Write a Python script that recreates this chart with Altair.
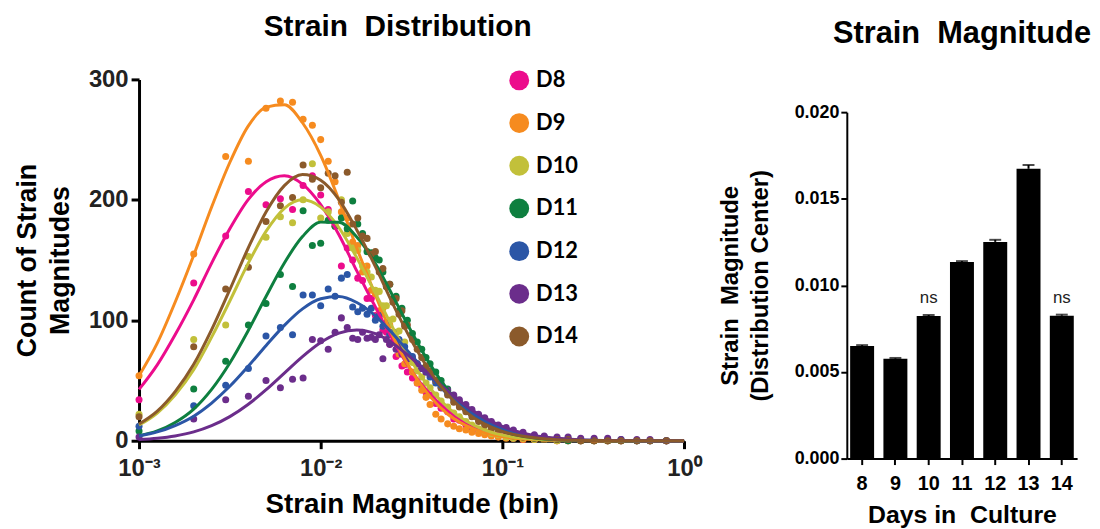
import altair as alt
import pandas as pd

# ---------------- data ----------------
series_names = ["D8", "D9", "D10", "D11", "D12", "D13", "D14"]
series_colors = ["#EC0C8C", "#F68B1F", "#C2C03A", "#0E7F3F", "#2B56A6", "#6B2D8B", "#8B5A2B"]

# fitted curves (strain bin on log axis)
curve_x = [0.001, 0.00126, 0.00158, 0.002, 0.00251, 0.00316, 0.00398, 0.00501, 0.00631, 0.00794,
           0.01, 0.0126, 0.0158, 0.02, 0.0251, 0.0316, 0.0398, 0.0501, 0.0631, 0.0794,
           0.1, 0.126, 0.158, 0.2, 0.251, 0.316, 0.398, 0.501, 0.631, 0.794, 1.0]
curve_D8 = [42.6, 63, 88, 117, 147.5, 176, 200, 215, 220, 213, 196, 171, 141, 111, 83, 58, 39, 25, 15, 8.6,
            4.7, 2.4, 1.2, 0.5, 0.2, 0.1, 0, 0, 0, 0, 0]
curve_D9 = [54, 81, 115, 154, 194, 231, 261, 277, 279, 264, 237, 200, 160, 121, 86, 58, 37, 22, 12.5, 6.7,
            3.4, 1.6, 0.7, 0.3, 0.1, 0, 0, 0, 0, 0, 0]
curve_D10 = [13, 23, 38, 59, 86, 116, 147, 174, 193, 200, 194, 177, 152, 122.5, 93, 66, 44, 27.6, 16.3, 9,
             4.7, 2.3, 1.0, 0.5, 0.2, 0.1, 0, 0, 0, 0, 0]
curve_D11 = [4.1, 8.1, 15.1, 26.2, 42.6, 64.5, 91.1, 120, 147.6, 169.5, 181.5, 181.4, 169.1, 147.2, 119.4,
             90.5, 64, 42.2, 26, 14.9, 8, 4, 1.9, 0.8, 0.3, 0.1, 0, 0, 0, 0, 0]
curve_D12 = [4, 7.3, 12.6, 20.4, 31.3, 45.2, 61.6, 79.1, 95.8, 109.5, 117.9, 119.8, 114.8, 103.7, 88.4, 71,
             53.8, 38.5, 25.9, 16.5, 9.9, 5.6, 3.0, 1.5, 0.7, 0.3, 0.1, 0, 0, 0, 0]
curve_D13 = [1, 2.1, 4, 7.3, 12.5, 20, 30.1, 42.4, 56.2, 69.9, 81.6, 89.4, 92, 88.9, 80.6, 68.6, 54.8, 41.1,
             29, 19.2, 11.9, 6.9, 3.8, 2, 1, 0.4, 0.2, 0.1, 0, 0, 0]
curve_D14 = [13.9, 24.6, 40.8, 63.4, 92.2, 125.4, 159.6, 190.1, 211.8, 221, 216.3, 200.2, 175, 144.6, 112.8,
             83.2, 58, 38.2, 23.8, 14, 7.8, 4.1, 2.0, 0.9, 0.4, 0.2, 0, 0, 0, 0, 0]

# binned counts (scatter)
scatter_x = [0.001, 0.002, 0.003, 0.004, 0.005, 0.006, 0.007, 0.008, 0.009, 0.010,
             0.011, 0.012, 0.013, 0.014, 0.015, 0.016, 0.017, 0.018, 0.019, 0.020,
             0.021, 0.022, 0.023, 0.024, 0.025, 0.026, 0.027, 0.028, 0.029, 0.030,
             0.032, 0.034, 0.036, 0.038, 0.040, 0.043, 0.046, 0.050, 0.054, 0.058,
             0.063, 0.068, 0.074, 0.080, 0.087, 0.095, 0.105, 0.115, 0.13, 0.15,
             0.17, 0.2, 0.23, 0.27, 0.32, 0.38, 0.45, 0.55, 0.65, 0.8]
scatter_D8 = [34, 131, 170, 207, 196, 201, 192, 212, 220, 204, 192, 178, 145, 160, 150, 135, 133, 118, 118, 104,
              104, 92, 90, 80, 82, 70, 72, 62, 63, 57, 52, 48, 45, 40, 38, 31, 27, 24, 18, 17,
              13, 11, 8, 6, 5, 4, 3, 2, 1, 1, 1, 0, 0, 0, 0, 0, 0, 0, 0, 0]
scatter_D9 = [54, 155, 236, 232, 276, 282, 281, 267, 262, 250, 232, 215, 190, 185, 165, 162, 140, 145, 125, 122,
              108, 110, 95, 96, 82, 84, 72, 74, 64, 66, 57, 48, 42, 36, 30, 22, 18, 14, 12, 10,
              9, 7, 6, 5, 4, 3, 2, 2, 1, 1, 1, 0, 0, 0, 0, 0, 0, 0, 0, 0]
scatter_D10 = [22, 84, 96, 153, 169, 186, 181, 200, 230, 185, 190, 178, 200, 172, 160, 158, 145, 140, 136, 125,
               124, 112, 112, 100, 101, 90, 91, 80, 82, 72, 65, 58, 53, 48, 44, 38, 33, 28, 23, 20,
               16, 13, 10, 8, 6, 5, 3, 2, 2, 1, 1, 0, 0, 0, 0, 0, 0, 0, 0, 0]
scatter_D11 = [8, 43, 66, 96, 114, 138, 128, 191, 162, 164, 183, 178, 185, 176, 199, 180, 172, 157, 156, 152,
               150, 140, 128, 130, 118, 120, 108, 110, 97, 100, 89, 82, 76, 69, 64, 57, 50, 43, 37, 32,
               26, 22, 18, 14, 11, 8, 6, 4, 3, 2, 1, 1, 0, 0, 0, 0, 0, 0, 0, 0]
scatter_D12 = [12, 29, 46, 60, 87, 94, 88, 121, 121, 112, 126, 120, 135, 138, 111, 107, 110, 105, 110, 100,
               104, 95, 98, 88, 90, 82, 84, 76, 78, 70, 70, 64, 60, 57, 53, 48, 44, 39, 34, 30,
               26, 22, 19, 16, 13, 11, 8, 7, 5, 4, 3, 2, 2, 1, 1, 1, 1, 0, 0, 0]
scatter_D13 = [3, 18, 34, 37, 50, 44, 51, 52, 84, 83, 76, 90, 102, 94, 85, 84, 90, 85, 86, 84,
               88, 68, 84, 80, 82, 76, 78, 72, 74, 68, 68, 64, 60, 57, 55, 50, 47, 42, 38, 34,
               30, 26, 22, 19, 16, 13, 11, 9, 7, 5, 4, 3, 3, 2, 2, 2, 1, 1, 1, 0]
scatter_D14 = [20, 78, 126, 144, 182, 195, 202, 229, 217, 210, 222, 220, 198, 223, 180, 185, 170, 168, 155, 157,
               140, 143, 128, 130, 115, 118, 105, 108, 95, 96, 84, 76, 69, 62, 58, 50, 44, 38, 32, 28,
               24, 20, 16, 13, 10, 8, 6, 5, 3, 2, 1, 1, 1, 0, 0, 0, 0, 0, 0, 0]

# bar chart
bar_days = ["8", "9", "10", "11", "12", "13", "14"]
bar_centers = [0.0065, 0.00577, 0.00823, 0.01135, 0.01251, 0.01673, 0.00825]
bar_errors = [0.00005, 0.00004, 0.00006, 0.00005, 0.00012, 0.00022, 0.00006]
bar_notes = ["", "", "ns", "", "", "", "ns"]

# ---------------- tables ----------------
curve_vals = dict(zip(series_names, [curve_D8, curve_D9, curve_D10, curve_D11, curve_D12, curve_D13, curve_D14]))
scatter_vals = dict(zip(series_names, [scatter_D8, scatter_D9, scatter_D10, scatter_D11, scatter_D12,
                                       scatter_D13, scatter_D14]))

curve_df = pd.DataFrame([
    {"day": s, "strain": x, "count": v, "idx": i}
    for s in series_names for i, (x, v) in enumerate(zip(curve_x, curve_vals[s]))
])
scatter_df = pd.DataFrame([
    {"day": s, "strain": x, "count": v}
    for s in series_names for x, v in zip(scatter_x, scatter_vals[s])
])
bar_df = pd.DataFrame({"day": bar_days, "center": bar_centers, "err": bar_errors, "note": bar_notes})

FONT = "Liberation Sans"

# ---------------- left panel ----------------
x_scale = alt.Scale(type="log", domain=[0.001, 1], nice=False)
y_scale = alt.Scale(domain=[0, 300], nice=False)

x_axis = alt.Axis(
    values=[0.001, 0.01, 0.1, 1],
    labelExpr="datum.value < 0.005 ? '10\u207b\u00b3' : datum.value < 0.05 ? '10\u207b\u00b2' : datum.value < 0.5 ? '10\u207b\u00b9' : '10\u2070'",
    title="Strain Magnitude (bin)",
    titleFontSize=28, titlePadding=10,
    labelFontSize=24, labelColor="#222", labelPadding=8, labelFlush=False,
    tickSize=8, tickWidth=3, domainWidth=3,
)
y_axis = alt.Axis(
    values=[0, 100, 200, 300],
    title=["Count of Strain", "Magnitudes"],
    titleFontSize=27, titlePadding=14, titleLineHeight=33,
    labelFontSize=24, labelColor="#222", labelPadding=3,
    tickSize=8, tickWidth=3, domainWidth=3,
)

points = alt.Chart(scatter_df).mark_circle(size=50, opacity=1).encode(
    x=alt.X("strain:Q", scale=x_scale, axis=x_axis),
    y=alt.Y("count:Q", scale=y_scale, axis=y_axis),
    color=alt.Color(
        "day:N",
        scale=alt.Scale(domain=series_names, range=series_colors),
        sort=series_names,
        legend=alt.Legend(
            title=None, orient="none", legendX=372, legendY=-10,
            symbolType="circle", symbolSize=400, symbolStrokeWidth=0, symbolOpacity=1,
            labelFont="Lato", labelFontSize=22, labelFontWeight="bold", labelColor="black",
            labelOffset=6, rowPadding=21,
        ),
    ),
)
lines = alt.Chart(curve_df).mark_line(strokeWidth=3, interpolate="monotone").encode(
    x=alt.X("strain:Q", scale=x_scale),
    y=alt.Y("count:Q", scale=y_scale),
    color=alt.Color("day:N", scale=alt.Scale(domain=series_names, range=series_colors), legend=None),
    order="idx:Q",
)

left = alt.layer(points, lines).resolve_scale(color="independent").properties(
    width=549, height=364,
    title=alt.TitleParams("Strain\u00a0 Distribution", fontSize=30, font=FONT, fontWeight="bold",
                          anchor="middle", offset=26, dx=-14, color="black"),
)

# ---------------- right panel ----------------
bx = alt.X("day:N", sort=bar_days, scale=alt.Scale(paddingInner=0.28, paddingOuter=0.1),
           axis=alt.Axis(title="Days in\u00a0 Culture", labelAngle=0, labelFontSize=20, titleFontSize=25,
                         titlePadding=9, tickSize=6, tickWidth=2, domainWidth=2, labelPadding=9))
# the bar panel's value axis starts lower than the distribution panel's
by_scale = alt.Scale(domain=[0, 0.02], nice=False, range=[382, 33])

bars = alt.Chart(bar_df).mark_bar(color="black").encode(
    x=bx,
    y=alt.Y("center:Q", scale=by_scale,
            axis=alt.Axis(values=[0, 0.005, 0.01, 0.015, 0.02], format=".3f",
                          title=["Strain\u00a0 Magnitude", "(Distribution Center)"],
                          titleFontSize=24, titleLineHeight=30, titlePadding=22,
                          labelFontSize=18, tickSize=6, tickWidth=2, domainWidth=2, labelPadding=2)),
)
err_rule = alt.Chart(bar_df).transform_calculate(top="datum.center + datum.err").mark_rule(
    color="black", strokeWidth=2).encode(x=alt.X("day:N", sort=bar_days), y="center:Q", y2="top:Q")
err_cap = alt.Chart(bar_df).transform_calculate(top="datum.center + datum.err").mark_tick(
    color="black", thickness=2, size=12).encode(x=alt.X("day:N", sort=bar_days), y="top:Q")
notes = alt.Chart(bar_df).transform_calculate(top="datum.center + datum.err").mark_text(
    font=FONT, fontSize=17, baseline="bottom", dy=-8, color="#222").encode(
    x=alt.X("day:N", sort=bar_days), y="top:Q", text="note:N")

right = alt.layer(bars, err_rule, err_cap, notes).properties(
    width=232, height=382,
    title=alt.TitleParams("Strain\u00a0 Magnitude", fontSize=31, font=FONT, fontWeight="bold",
                          anchor="middle", offset=30, color="black"),
)

chart = alt.hconcat(left, right, spacing=16).configure_view(stroke=None).configure_axis(
    grid=False, domainColor="black", tickColor="black",
    labelFont=FONT, labelFontWeight="bold", labelColor="black",
    titleFont=FONT, titleFontWeight="bold", titleColor="black",
).properties(padding={"left": 5, "top": 2, "right": 0, "bottom": 0})

chart.save("out.html", embed_options={"renderer": "svg", "actions": False})
